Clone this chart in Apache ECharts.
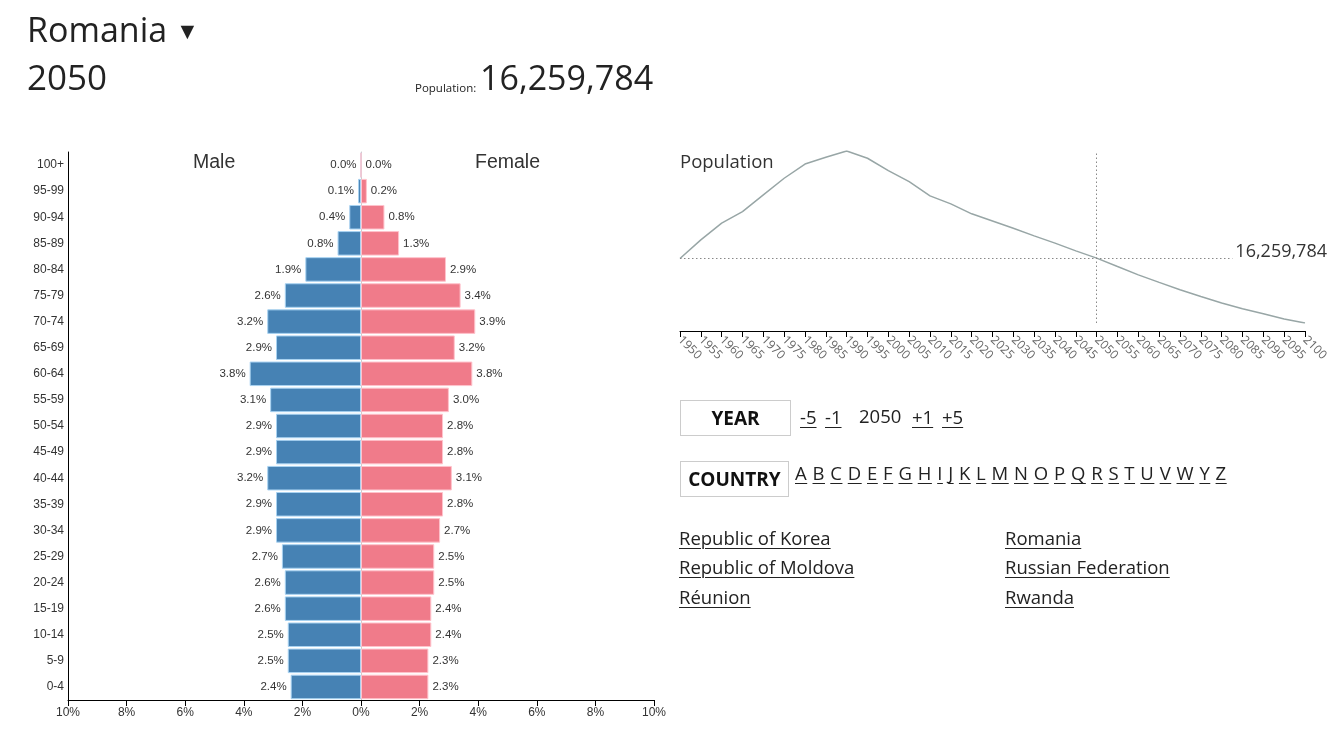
<!DOCTYPE html>
<html>
<head>
<meta charset="utf-8">
<script src="https://cdn.jsdelivr.net/npm/echarts@6/dist/echarts.min.js"></script>
<style>
  html,body{margin:0;padding:0;background:#fff;width:1336px;height:750px;overflow:hidden;}
  body{font-family:"Open Sans","Noto Sans",sans-serif;color:#222;}
  #chart{position:absolute;left:0;top:0;width:1336px;height:750px;}
  .t{position:absolute;white-space:nowrap;z-index:5;}
  .u{text-decoration:underline;text-underline-offset:3px;text-decoration-thickness:1px;}
  .box{position:absolute;border:1px solid #ccc;font-weight:bold;font-size:19px;display:flex;align-items:center;justify-content:center;z-index:5;color:#111;}
  .lnk{font-size:18.5px;line-height:24px;}
</style>
</head>
<body>
<div id="chart"></div>
<div class="t" style="left:27px;top:8px;font-size:34px;line-height:42px;">Romania <span style="font-size:23px;position:relative;top:-3px;left:0px;">&#9660;</span></div>
<div class="t" style="left:27px;top:56px;font-size:35px;line-height:42px;">2050</div>
<div class="t" style="left:415px;top:81px;font-size:11.5px;line-height:14px;">Population:</div>
<div class="t" style="left:480px;top:56px;font-size:34px;line-height:42px;">16,259,784</div>

<div class="box" style="left:680px;top:400px;width:109px;height:34px;">YEAR</div>
<div class="t lnk u" style="left:800px;top:405px;">-5</div>
<div class="t lnk u" style="left:825px;top:405px;">-1</div>
<div class="t lnk" style="left:859px;top:404px;">2050</div>
<div class="t lnk u" style="left:912px;top:405px;">+1</div>
<div class="t lnk u" style="left:942px;top:405px;">+5</div>
<div class="box" style="left:680px;top:461px;width:107px;height:34px;">COUNTRY</div>
<div class="t lnk" id="letters" style="left:795px;top:461px;letter-spacing:0.5px;"></div>

<div class="t u lnk" style="left:679px;top:526px;">Republic of Korea</div>
<div class="t u lnk" style="left:679px;top:555px;">Republic of Moldova</div>
<div class="t u lnk" style="left:679px;top:585px;">Réunion</div>
<div class="t u lnk" style="left:1005px;top:526px;">Romania</div>
<div class="t u lnk" style="left:1005px;top:555px;">Russian Federation</div>
<div class="t u lnk" style="left:1005px;top:585px;">Rwanda</div>

<script>
// ---- Data ----
const ageGroups = ['0-4','5-9','10-14','15-19','20-24','25-29','30-34','35-39','40-44','45-49',
  '50-54','55-59','60-64','65-69','70-74','75-79','80-84','85-89','90-94','95-99','100+'];
const malePct   = [2.4,2.5,2.5,2.6,2.6,2.7,2.9,2.9,3.2,2.9,2.9,3.1,3.8,2.9,3.2,2.6,1.9,0.8,0.4,0.1,0.0];
const femalePct = [2.3,2.3,2.4,2.4,2.5,2.5,2.7,2.8,3.1,2.8,2.8,3.0,3.8,3.2,3.9,3.4,2.9,1.3,0.8,0.2,0.0];
const years = [1950,1955,1960,1965,1970,1975,1980,1985,1990,1995,2000,2005,2010,2015,2020,2025,
  2030,2035,2040,2045,2050,2055,2060,2065,2070,2075,2080,2085,2090,2095,2100];
const population = [16236000,17490000,18620000,19400000,20530000,21650000,22610000,23070000,23489000,
  23000000,22160000,21420000,20460000,19920000,19250000,18770000,18280000,17760000,17270000,16750000,
  16259784,15690000,15130000,14620000,14120000,13670000,13230000,12840000,12510000,12150000,11880000];
const selectedYear = 2050;
const selectedPop = 16259784;
const letters = ['A','B','C','D','E','F','G','H','I','J','K','L','M','N','O','P','Q','R','S','T','U','V','W','Y','Z'];

document.getElementById('letters').innerHTML = letters.map(l => '<span class="u">' + l + '</span>').join(' ');

const chart = echarts.init(document.getElementById('chart'));
const fmtPct = v => Math.abs(v).toFixed(1) + '%';
const arial = 'Liberation Sans, Arial, sans-serif';
const segoe = '"Open Sans", "Noto Sans", sans-serif';

chart.setOption({
  animation: false,
  textStyle: { fontFamily: arial },
  graphic: [
    { type: 'text', left: 193, top: 153, style: { text: 'Male', font: '19.5px ' + arial, fill: '#333' } },
    { type: 'text', left: 475, top: 153, style: { text: 'Female', font: '19.5px ' + arial, fill: '#333' } },
    { type: 'text', left: 680, top: 153, style: { text: 'Population', font: '18.5px ' + segoe, fill: '#333' } }
  ],
  grid: [
    { left: 68, right: 682, top: 152, bottom: 50 },
    { left: 680, right: 31, top: 151, bottom: 427 }
  ],
  xAxis: [
    {
      type: 'value', gridIndex: 0, min: -10, max: 10, interval: 2,
      axisLine: { show: true, lineStyle: { color: '#000' } },
      axisTick: { show: true, length: 6, lineStyle: { color: '#000' } },
      axisLabel: { formatter: v => Math.abs(v) + '%', fontSize: 12, color: '#333', margin: 7 },
      splitLine: { show: false }
    },
    {
      type: 'value', gridIndex: 1, min: 1950, max: 2100, interval: 5, offset: 8,
      axisLine: { show: true, lineStyle: { color: '#000' } },
      axisTick: { show: true, length: 6, inside: false, lineStyle: { color: '#000' } },
      axisLabel: { rotate: -45, fontSize: 12, color: '#666', margin: 7, fontFamily: segoe,
        formatter: v => String(v) },
      splitLine: { show: false }
    }
  ],
  yAxis: [
    {
      type: 'category', gridIndex: 0, data: ageGroups,
      axisLine: { show: true, onZero: false, lineStyle: { color: '#000' } },
      axisTick: { show: false },
      axisLabel: { fontSize: 12, color: '#333', margin: 4 }
    },
    {
      type: 'category', gridIndex: 0, data: ageGroups, position: 'left',
      axisLine: { show: true, onZero: true, lineStyle: { color: '#ccc' } },
      axisTick: { show: false }, axisLabel: { show: false }
    },
    {
      type: 'value', gridIndex: 1,
      min: v => v.min, max: v => v.max,
      show: false, splitLine: { show: false }
    }
  ],
  series: [
    {
      name: 'Male', type: 'bar', xAxisIndex: 0, yAxisIndex: 0,
      data: malePct.map(v => -v),
      barGap: '-100%', barCategoryGap: '6%',
      itemStyle: { color: '#4682b4', borderColor: '#a9d3f2', borderWidth: 1 },
      label: { show: true, position: 'left', distance: 4, formatter: p => fmtPct(p.value), fontSize: 11.5, color: '#333' }
    },
    {
      name: 'Female', type: 'bar', xAxisIndex: 0, yAxisIndex: 0,
      data: femalePct,
      barGap: '-100%', barCategoryGap: '6%',
      itemStyle: { color: '#f07b8a', borderColor: '#ffc3cc', borderWidth: 1 },
      label: { show: true, position: 'right', distance: 4, formatter: p => fmtPct(p.value), fontSize: 11.5, color: '#333' }
    },
    {
      name: 'Population', type: 'line', xAxisIndex: 1, yAxisIndex: 2,
      data: years.map((y, i) => [y, population[i]]),
      showSymbol: false, smooth: false,
      lineStyle: { color: '#98a6a6', width: 1.5 },
      markLine: {
        silent: true, symbol: 'none',
        lineStyle: { color: '#888', type: [1.5, 2.5], width: 1 },
        data: [
          { xAxis: selectedYear, label: { show: false } },
          {
            yAxis: selectedPop,
            label: {
              show: true, position: 'insideEndTop', distance: 5, offset: [27, 8],
              formatter: () => selectedPop.toLocaleString('en-US'),
              fontSize: 18, color: '#333', fontFamily: segoe,
              backgroundColor: '#fff', padding: [0, 0, 0, 3]
            }
          }
        ]
      }
    }
  ]
});
</script>
</body>
</html>
